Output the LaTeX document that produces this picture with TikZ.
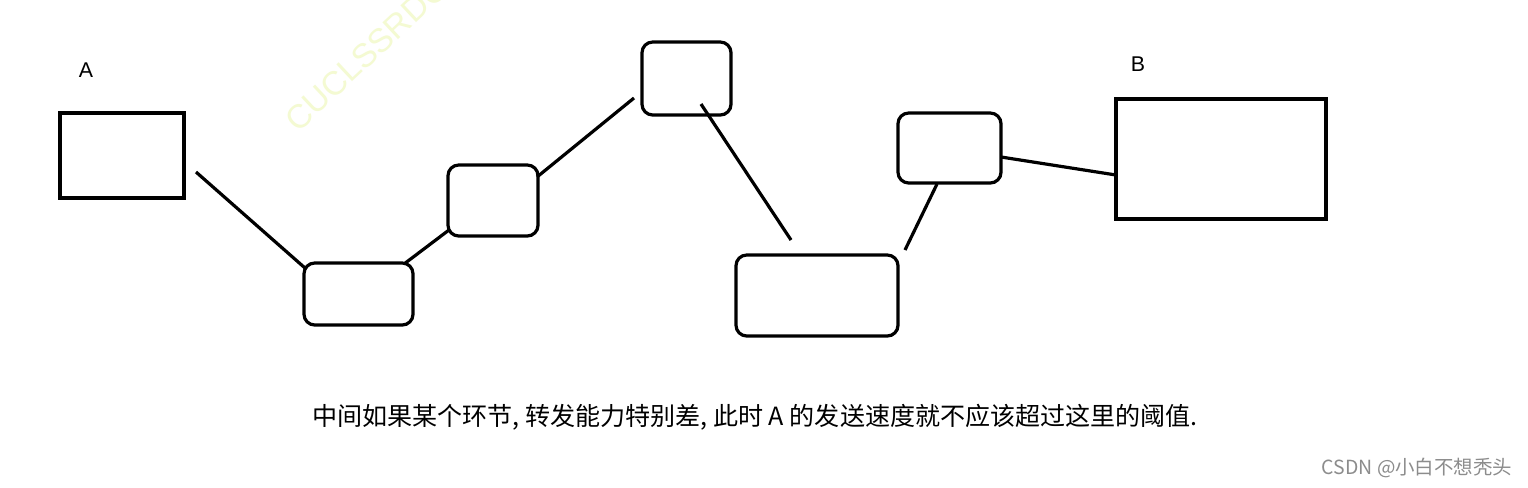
\documentclass[tikz,border=0pt]{standalone}
\usepackage{fontspec}
\setmainfont{Liberation Sans}
\newfontfamily\cjk{Noto Sans CJK SC}
\definecolor{wmcol}{HTML}{F4FAD2}
\begin{document}
\begin{tikzpicture}[x=0.75pt,y=-0.75pt,
  sqbox/.style={draw,line width=2.4pt,inner sep=0pt,outer sep=0pt},
  rbox/.style={draw,line width=2.4pt,rounded corners=8pt,inner sep=0pt,outer sep=0pt},
  link/.style={line width=2.4pt},
  lbl/.style={font=\fontsize{16}{18}\selectfont,inner sep=0pt}]
\useasboundingbox (0,0) rectangle (1528,487);
\fill[white] (0,0) rectangle (1528,487);
% watermark
\begin{scope}
\clip (0,0) rectangle (1528,487);
\node[rotate=43,anchor=west,text=wmcol,font=\fontsize{25}{27}\selectfont,inner sep=0pt] (wm) at (290,125) {CUCLSSRDC};
\end{scope}
% boxes
\node[sqbox,minimum width=124*0.75pt,minimum height=85*0.75pt] (A) at (122,155.5) {};
\node[rbox,minimum width=109*0.75pt,minimum height=62*0.75pt] (n2) at (358.5,294) {};
\node[rbox,minimum width=90*0.75pt,minimum height=71*0.75pt] (n3) at (493,200.5) {};
\node[rbox,minimum width=89*0.75pt,minimum height=73*0.75pt] (n4) at (686.5,78.5) {};
\node[rbox,minimum width=162*0.75pt,minimum height=81*0.75pt] (n5) at (817,295.5) {};
\node[rbox,minimum width=103*0.75pt,minimum height=70*0.75pt] (n6) at (949.5,148) {};
\node[sqbox,minimum width=210*0.75pt,minimum height=120*0.75pt] (B) at (1221,159) {};
% labels
\node[lbl] (la) at (86,70) {A};
\node[lbl] (lb) at (1138,64) {B};
% connector ends
\coordinate (c1) at (196,172);
\coordinate (c2) at (305,268);
\coordinate (c3) at (404,264);
\coordinate (c4) at (449,230);
\coordinate (c5) at (537,177);
\coordinate (c6) at (634,98);
\coordinate (c7) at (701,104);
\coordinate (c8) at (791,240);
\coordinate (c9) at (905,250);
\coordinate (c10) at (937,184);
\coordinate (c11) at (1001,157);
\coordinate (c12) at (1116,175);
\draw[link] (c1) -- (c2);
\draw[link] (c3) -- (c4);
\draw[link] (c5) -- (c6);
\draw[link] (c7) -- (c8);
\draw[link] (c9) -- (c10);
\draw[link] (c11) -- (c12);
% caption
\node[font=\cjk\fontsize{18.8}{20}\selectfont,inner sep=0pt] (cap) at (755,417) {中间如果某个环节, 转发能力特别差, 此时 A 的发送速度就不应该超过这里的阈值.};
\node[font=\cjk\fontsize{14.6}{16}\selectfont,text=black!45,inner sep=0pt] (csdn) at (1417,468) {CSDN @小白不想秃头};
\end{tikzpicture}
\end{document}
